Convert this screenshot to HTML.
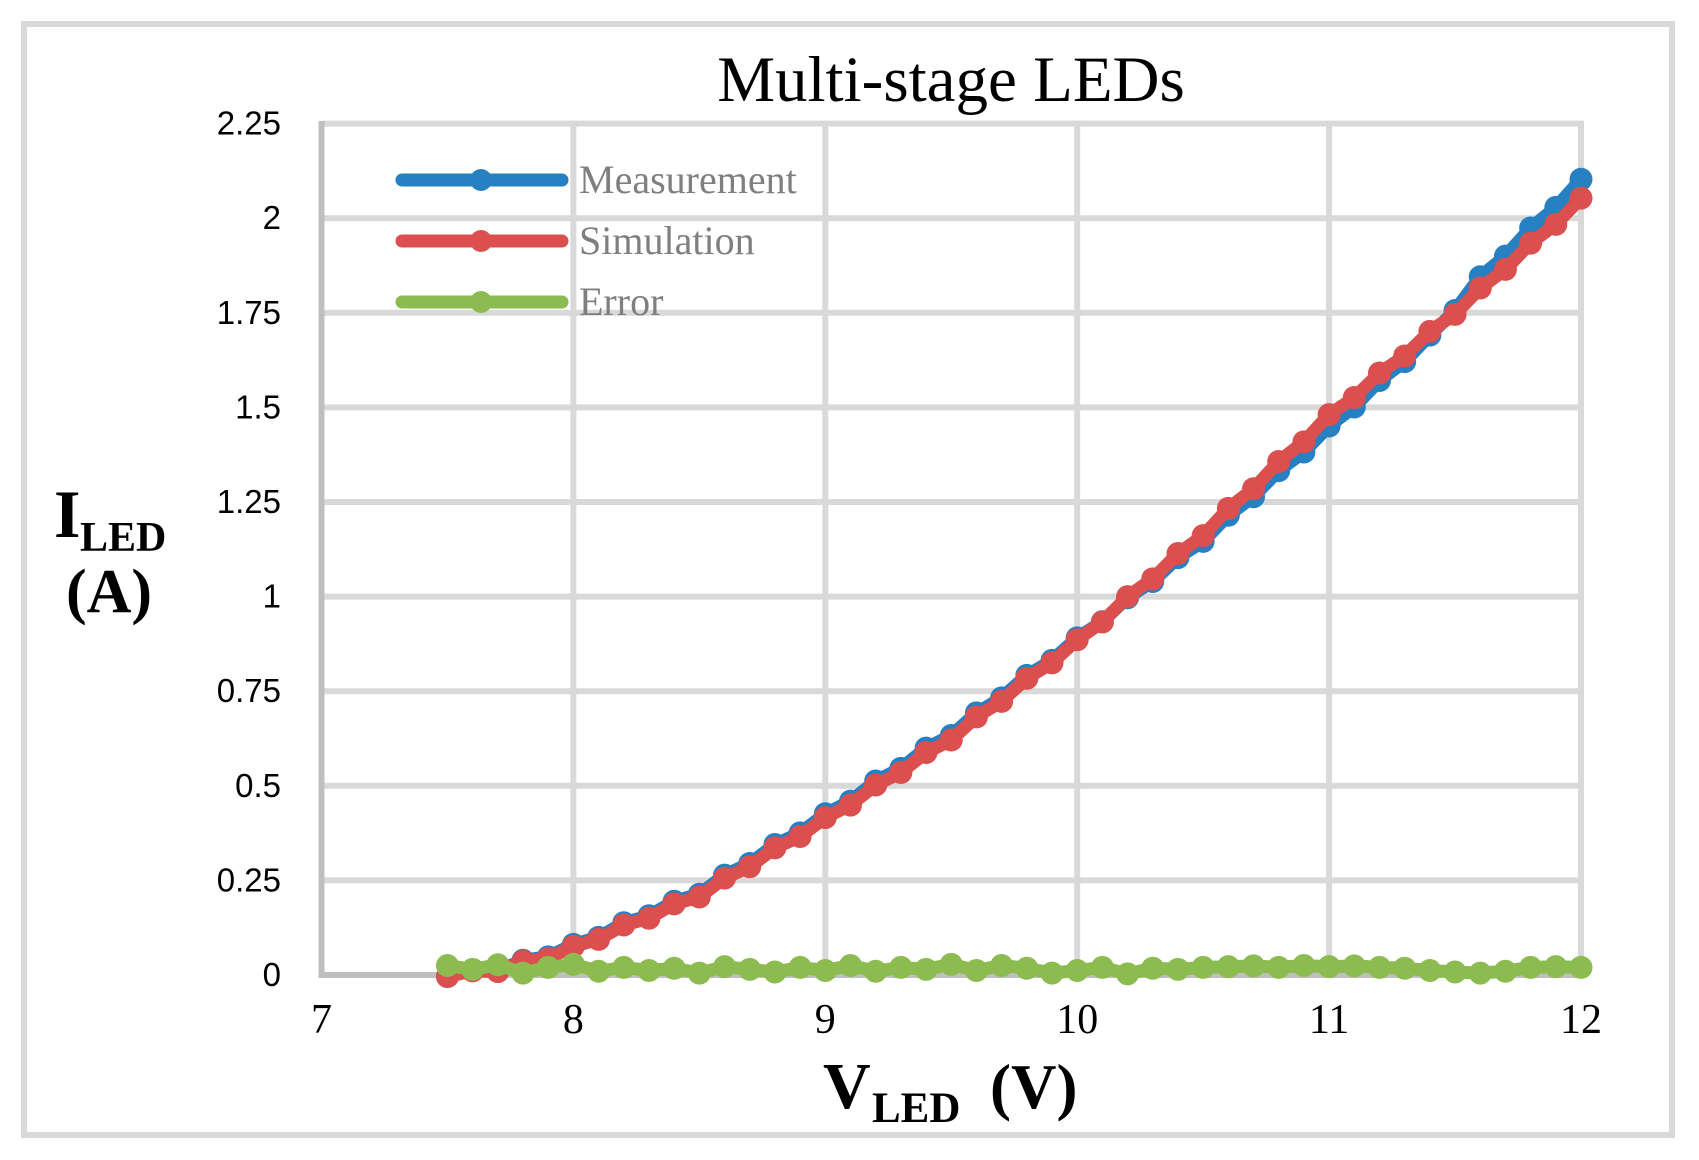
<!DOCTYPE html>
<html><head><meta charset="utf-8"><style>
html,body{margin:0;padding:0;background:#fff;}
svg{display:block;}
</style></head><body>
<svg id="s" width="1699" height="1160" xmlns="http://www.w3.org/2000/svg">
<rect x="24" y="24" width="1648" height="1111" fill="#fff" stroke="#d9d9d9" stroke-width="6"/>
<g id="grid" stroke="#d9d9d9" stroke-width="6"></g>
<line x1="321.5" y1="121" x2="321.5" y2="978" stroke="#bfbfbf" stroke-width="6"/>
<line x1="318.5" y1="975" x2="1584" y2="975" stroke="#bfbfbf" stroke-width="6"/>
<g id="data"></g>
<text x="951" y="101" font-family="Liberation Serif" font-size="65" text-anchor="middle">Multi-stage LEDs</text>
<g font-family="Liberation Sans" font-size="33" text-anchor="end" id="yl"></g>
<g font-family="Liberation Serif" font-size="42" text-anchor="middle" id="xl"></g>
<g font-family="Liberation Serif" font-weight="bold">
<text x="54" y="537" font-size="68">I</text>
<text x="80" y="551" font-size="42">LED</text>
<text x="66" y="612" font-size="62">(A)</text>
<text x="823" y="1108" font-size="66">V</text>
<text x="872" y="1122" font-size="43">LED</text>
<text x="990" y="1108" font-size="63">(V)</text>
</g>
<g stroke-linecap="round" stroke-width="13">
<line x1="402" y1="180" x2="562" y2="180" stroke="#2680c2"/>
<circle cx="481" cy="180" r="11" fill="#2680c2"/>
<line x1="402" y1="241" x2="562" y2="241" stroke="#dc4f4f"/>
<circle cx="481" cy="241" r="11" fill="#dc4f4f"/>
<line x1="402" y1="302" x2="562" y2="302" stroke="#8cbb50"/>
<circle cx="481" cy="302" r="11" fill="#8cbb50"/>
</g>
<g font-family="Liberation Serif" font-size="40" fill="#7f7f7f">
<text x="579" y="193">Measurement</text>
<text x="579" y="254">Simulation</text>
<text x="579" y="315">Error</text>
</g>
</svg>
<script>
var NS="http://www.w3.org/2000/svg";
function X(v){return 321.5+(v-7)*251.9;}
function Y(v){return 975-v*378.4;}
function el(t,a,p){var e=document.createElementNS(NS,t);for(var k in a)e.setAttribute(k,a[k]);p.appendChild(e);return e;}
var g=document.getElementById('grid');
for(var i=1;i<=9;i++){var y=Y(i*0.25);el('line',{x1:321.5,y1:y,x2:1584,y2:y},g);}
for(var i=8;i<=12;i++){el('line',{x1:X(i),y1:121,x2:X(i),y2:975},g);}
var yl=document.getElementById('yl');
var labs=["0","0.25","0.5","0.75","1","1.25","1.5","1.75","2","2.25"];
for(var i=0;i<10;i++){var t=el('text',{x:281,y:Y(i*0.25)+11},yl);t.textContent=labs[i];}
var xl=document.getElementById('xl');
for(var i=7;i<=12;i++){var t=el('text',{x:X(i),y:1033},xl);t.textContent=i;}
var sa=[[7.5,0],[7.6,0.005],[7.7,0.013],[7.8,0.03],[7.9,0.048],[8,0.07],[8.5,0.21],[9,0.41],[9.5,0.625],[10,0.88],[10.5,1.165],[11,1.475],[11.5,1.75],[12,2.047]];
var da=[[7.5,0],[8,0.005],[9,0.01],[9.5,0.012],[10,0.005],[10.5,-0.015],[11,-0.03],[11.4,-0.01],[11.6,0.03],[12,0.05]];
function interp(a,x){for(var i=0;i<a.length-1;i++){if(x<=a[i+1][0]+1e-9){var t=(x-a[i][0])/(a[i+1][0]-a[i][0]);return a[i][1]+t*(a[i+1][1]-a[i][1]);}}return a[a.length-1][1];}
var sim=[],meas=[],err=[];
var ev=[0.025,0.015,0.027,0.005,0.02,0.028,0.01,0.02,0.012,0.018,0.005,0.022,0.015,0.008,0.02,0.012,0.025,0.01,0.02,0.015,0.028,0.012,0.025,0.018,0.005,0.012,0.02,0.003,0.018,0.015,0.02,0.022,0.024,0.02,0.025,0.022,0.024,0.02,0.018,0.012,0.008,0.005,0.01,0.02,0.022,0.02];
for(var k=0;k<=45;k++){var x=7.5+k*0.1;var s=interp(sa,x)+(k%2?0.006:-0.004);sim.push([x,s]);meas.push([x,s+interp(da,x)]);err.push([x,ev[k]]);}
var d=document.getElementById('data');
function series(arr,c){var p="";arr.forEach(function(q,i){p+=(i?"L":"M")+X(q[0]).toFixed(1)+" "+Y(q[1]).toFixed(1);});
el('path',{d:p,fill:'none',stroke:c,'stroke-width':13,'stroke-linejoin':'round'},d);
arr.forEach(function(q){el('circle',{cx:X(q[0]),cy:Y(q[1]),r:11.5,fill:c},d);});}
series(meas,'#2680c2');series(sim,'#dc4f4f');series(err,'#8cbb50');
</script>
</body></html>
